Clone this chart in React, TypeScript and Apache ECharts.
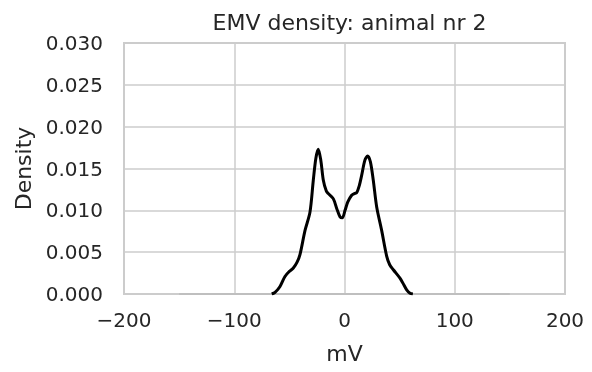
import React, { useEffect, useRef } from "react";
import * as echarts from "echarts";

const titleText = "EMV density: animal nr 2";
const xLabel = "mV";
const yLabel = "Density";

// KDE curve (mV, density)
const densityX = [-66, -63, -58.5, -54, -50, -46.4, -43, -40.4, -35.8, -31.3, -28.3, -26, -23.8, -21.5, -19.2, -16.5, -14.7, -10.2, -7, -4, -2, 0.5, 3, 6.5, 9, 11, 13.5, 15.6, 18.5, 21, 23.5, 26.1, 29.2, 33.7, 38.3, 41, 44.3, 50.3, 53, 56.4, 59.4, 62];
const densityY = [0, 0.0002, 0.0009, 0.0021, 0.0027, 0.0031, 0.0038, 0.0047, 0.0076, 0.0098, 0.0136, 0.0162, 0.0173, 0.016, 0.0136, 0.0123, 0.012, 0.0114, 0.0102, 0.0092, 0.0091, 0.01, 0.011, 0.0118, 0.012, 0.0121, 0.013, 0.0142, 0.016, 0.0165, 0.0158, 0.0136, 0.0104, 0.0076, 0.0045, 0.0035, 0.0029, 0.0019, 0.0013, 0.0005, 0.0001, 0];

// faint baseline series
const baseX = [-150, 150];
const baseY = [0, 0];

const xTicks = { min: -200, max: 200, interval: 100 };
const yTicks = { min: 0, max: 0.03, interval: 0.005 };

export default function App() {
  const ref = useRef<HTMLDivElement>(null);
  useEffect(() => {
    if (!ref.current) return;
    const chart = echarts.init(ref.current, null, { renderer: "svg" });
    const font = "DejaVu Sans";
    const textColor = "#262626";
    const gridColor = "#cccccc";
    chart.setOption({
      animation: false,
      title: {
        text: titleText,
        left: 344.5,
        top: 6,
        textAlign: "center",
        textStyle: { fontFamily: font, fontSize: 22, fontWeight: "normal", color: textColor },
      },
      grid: {
        left: 124,
        right: 27,
        top: 43,
        bottom: 78,
        show: true,
        borderColor: gridColor,
        borderWidth: 2,
        backgroundColor: "#ffffff",
      },
      xAxis: {
        type: "value",
        min: xTicks.min,
        max: xTicks.max,
        interval: xTicks.interval,
        name: xLabel,
        nameLocation: "middle",
        nameGap: 48,
        nameTextStyle: { fontFamily: font, fontSize: 22, color: textColor },
        axisLine: { show: false },
        axisTick: { show: false },
        axisLabel: {
          fontFamily: font,
          fontSize: 20,
          color: textColor,
          margin: 16,
          formatter: (v: number) => (v < 0 ? "\u2212" + Math.abs(v) : String(v)),
        },
        splitLine: { show: true, lineStyle: { color: gridColor, width: 1.5 } },
      },
      yAxis: {
        type: "value",
        min: yTicks.min,
        max: yTicks.max,
        interval: yTicks.interval,
        name: yLabel,
        nameLocation: "middle",
        nameGap: 80,
        nameTextStyle: { fontFamily: font, fontSize: 22, color: textColor },
        axisLine: { show: false },
        axisTick: { show: false },
        axisLabel: {
          fontFamily: font,
          fontSize: 20,
          color: textColor,
          margin: 21,
          formatter: (v: number) => v.toFixed(3),
        },
        splitLine: { show: true, lineStyle: { color: gridColor, width: 1.5 } },
      },
      series: [
        {
          type: "line",
          data: baseX.map((x, i) => [x, baseY[i]]),
          showSymbol: false,
          lineStyle: { color: "#bfbfbf", width: 2 },
          z: 2,
        },
        {
          type: "line",
          data: densityX.map((x, i) => [x, densityY[i]]),
          showSymbol: false,
          smooth: 0.3,
          lineStyle: { color: "#000000", width: 3 },
          z: 3,
        },
      ],
    });
    return () => chart.dispose();
  }, []);
  return <div ref={ref} style={{ position: "fixed", left: 0, top: 0, width: 592, height: 372 }} />;
}
